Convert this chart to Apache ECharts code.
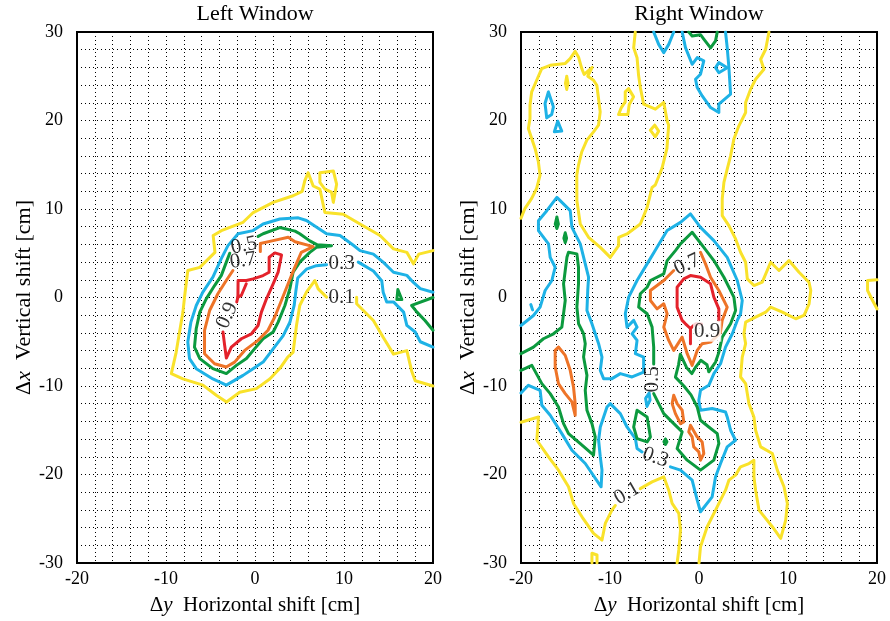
<!DOCTYPE html>
<html><head><meta charset="utf-8">
<script src="https://cdn.jsdelivr.net/npm/echarts@6/dist/echarts.min.js"></script>
<style>html,body{margin:0;padding:0;background:#fff}#c{width:890px;height:621px}</style>
</head><body><div id="c"></div>
<script>
// ---------- tick labels / titles ----------
const X_TICK_LABELS = [-20, -10, 0, 10, 20];
const Y_TICK_LABELS = [-30, -20, -10, 0, 10, 20, 30];
const PANEL_TITLES = ['Left Window', 'Right Window'];
const CONTOUR_LEVELS = ['0.1', '0.3', '0.5', '0.7', '0.9'];

// ---------- LEFT WINDOW contours ([Δy, Δx]) ----------
const L_yel_a = [[20,5.3],[18.4,4.9],[17.8,3.8],[17.06,5.1],[15.56,5.5],[14.05,7],[11.8,8.3],[9.92,9.4],[7.85,9.6],[7.29,12.25],[6.54,12.6],[5.97,14.1],[5.6,13.2],[5.3,12.0],[4.28,11.5],[2.04,10.75],[-0.2,9.6],[-1.34,8.5],[-3.78,7.55],[-4.7,7],[-4.5,5.1],[-6.2,3.4],[-7.55,3.05],[-7.9,0.2],[-8.1,-1.65],[-8.86,-6.2],[-9.4,-8.6],[-8.1,-9.2],[-5.85,-9.9],[-4.35,-11.05],[-3.2,-11.8],[-1.72,-10.7],[0.16,-10.3],[1.66,-9.2],[2.8,-8],[3.7,-6.7],[4.28,-6.2],[4.66,-3.17],[5.03,-0.9],[5.78,0.6],[6.72,1.92],[7.1,0.98],[8.04,0.04]];
const L_yel_b = [[11.42,0.04],[11.42,-0.7],[13.3,-2.6],[14.4,-4.5],[15.56,-6.4],[17.06,-6.0],[17.6,-8.3],[18,-9.4],[20,-10]];
const L_yel_c = [[7.29,14.1],[8.8,14.3],[9.17,12.8],[8.8,10.75],[8.6,11.9],[7.85,12.25],[7.29,13],[7.29,14.1]];
const L_cya_a = [[20,0.6],[18.57,1],[17.8,1.7],[17.06,2.5],[15.56,2.85],[14.4,4],[13.3,4.9],[11.8,5.3],[11.05,5.9],[9.55,7],[8.04,7.2],[5.78,8.7],[4.86,9.0],[2.79,8.87],[0.91,8.3],[-0.22,7.56],[-1.9,7.2],[-3.04,5.86],[-3.8,4.36],[-4.73,2.3],[-5.86,0.6],[-6.6,-0.9],[-7.2,-2.78],[-7.55,-5.03],[-7.36,-6.9],[-6.6,-8.04],[-4.73,-9.2],[-3.22,-9.9],[-1.34,-8.8],[-0.22,-8.04],[0.91,-7.3],[2.04,-5.8],[3.17,-4.3],[3.92,-2.8],[4.4,-0.9],[4.6,0.8],[4.8,2.2],[5.78,3.2],[6.9,3.6],[8.04,3.7]];
const L_cya_b = [[11.6,4.0],[13.3,3.0],[14.24,1.9],[14.4,0.6],[14.8,-0.5],[15.56,-0.5],[16.7,-1.65],[17.06,-3.15],[18,-3.9],[18.57,-5.0],[20,-5.6]];
const L_grn_a = [[0.35,6.9],[0.91,7.2],[2.79,7.9],[4.5,7.5],[5.03,7.2],[6.16,6.4],[7.0,5.95],[8.6,5.86],[6.9,5.67],[6.16,5.1],[5.03,4.0],[4.28,2.85],[3.92,1.0],[3.36,-0.9],[2.6,-2.78],[2.04,-3.9],[0.91,-4.66],[-0.22,-6],[-0.96,-6.9],[-2.09,-7.67],[-3.22,-8.6],[-4.73,-8.04],[-6.2,-6.9],[-6.8,-5.6],[-6.6,-3.5],[-6.2,-1.65],[-5.48,-0.15],[-4.54,1.35],[-3.78,2.5],[-3.22,4.0],[-2.84,5.0]];
const L_grn_b = [[15.94,-0.23],[16.05,0.9],[16.5,-0.23],[15.94,-0.23]];
const L_grn_c = [[20,0.0],[17.6,-0.9],[18.2,-1.65],[19.1,-2.6],[20,-3.7]];
const L_org_a = [[0.6,5.2],[0.6,6.1],[2.04,6.43],[3.73,6.8],[4.5,6.3],[6.54,5.75],[5.2,5.1],[4.47,3.4],[3.72,1.55],[2.97,-0.34],[2.22,-2.2],[1.46,-3.7],[0.34,-4.85],[-1.16,-5.98],[-2.29,-7.3],[-3.23,-7.86],[-4.54,-7.48],[-5.67,-6.35],[-5.67,-3.72],[-5.1,-1.47],[-4.17,0.42],[-3.23,1.92],[-2.48,3.05]];
const L_red_a = [[-3.6,-3.9],[-3.41,-5.41],[-3.22,-6.84],[-2.66,-5.6],[-1.53,-4.66],[-0.4,-4.1],[0.35,-3.16],[0.72,-1.65],[1.29,-0.15],[2.04,1.54],[2.6,2.86],[2.98,4.81],[2.23,5.04],[1.59,4.55],[1.59,2.86],[0.91,2.48],[-0.22,2.1],[-0.97,1.92],[-1.9,1.92],[-1.92,0.04],[-1.54,0.23],[-0.98,1.55]];
const L_red_b = [[-1.92,0.04],[-2.05,-0.5]];
// label: [Δy, Δx, level index, rotation]
const L_labels = [[-1.24,5.86,2,12],[-1.35,4.17,3,8],[-3.12,-2.03,4,65],[9.73,3.9,1,0],[9.73,0.04,0,0]];

// ---------- RIGHT WINDOW contours ----------
const R_yel_a = [[-20,8.95],[-19.55,10.08],[-18.8,11.2],[-18.24,12.33],[-17.86,13.83],[-18.05,15.34],[-18.42,16.84],[-18.8,17.97],[-19.17,19.1],[-18.99,20.23],[-18.99,21.73],[-18.8,23.23],[-18.24,24.55],[-17.67,25.86],[-16.73,26.24],[-15.05,26.43],[-14.48,26.99],[-13.92,27.82],[-13.54,27.18],[-13.17,25.86],[-12.9,25.2],[-12.0,26.0],[-12.5,25.0],[-11.85,24.55],[-11.48,23.98],[-11.29,22.48],[-11.1,20.98],[-11.29,19.47],[-11.85,18.72],[-12.6,17.78],[-13.17,16.47],[-13.54,14.96],[-13.73,13.83],[-13.72,10.94],[-13.34,8.31],[-12.41,6.8],[-11.09,5.67],[-9.97,4.54],[-9.03,5.86],[-9.03,6.8],[-8.09,7.18],[-6.59,8.31],[-5.83,10.18],[-5.27,12.44],[-4.91,12.71],[-4.16,14.59],[-3.6,16.84],[-3.41,19.47],[-3.58,19.96],[-3.96,22.03],[-4.9,21.28],[-6.22,21.84],[-6.59,23.72],[-6.79,25.11],[-6.96,27.1],[-7.34,28.23],[-7.16,30]];
const R_yel_b = [[-14.86,25.0],[-14.72,24.2],[-14.86,23.5],[-15.0,24.2],[-14.86,25.0]];
const R_yel_c = [[-7.91,23.6],[-7.35,22.67],[-7.84,21.8],[-7.99,20.68],[-9.04,20.68],[-8.74,21.43],[-8.29,22.1],[-8.29,23.23],[-7.91,23.6]];
const R_yel_d = [[-4.98,19.47],[-4.53,18.8],[-4.91,18.16],[-5.47,18.91],[-4.98,19.47]];
const R_yel_e = [[7.86,30],[7.49,28.05],[6.93,26.92],[7.3,25.79],[6.36,24.66],[5.8,23.54],[5.24,22.03],[5.24,20.9],[4.48,19.4],[3.92,17.9],[3.55,16.01],[3.17,14.51],[2.8,13.0],[2.61,11.13],[2.61,9.25],[3.36,8.12],[4.11,6.62],[4.67,5.11],[5.24,3.98],[5.43,2.1],[6.17,1.35],[7.11,1.73],[8.05,3.98],[8.99,3.05],[10.11,4.17],[11.24,2.85],[12.36,1.73],[12.56,0.79],[12.37,-0.71],[11.8,-2.03],[10.87,-2.4],[9.37,-1.66],[8.05,-1.09],[7.49,-1.66],[6.36,-2.22],[5.24,-2.78],[5.05,-4.1],[5.24,-5.22],[4.86,-6.73],[4.67,-8.98],[5.24,-9.73],[5.61,-11.99],[6.17,-13.5],[6.36,-15.0],[6.93,-16.88],[8.24,-17.63],[8.8,-19.51],[9.55,-21.39],[9.93,-23.27],[9.74,-25.15],[9.18,-27.22],[8.24,-25.9],[6.74,-24.02],[6.36,-21.77],[6.17,-20.26],[6.17,-18.38],[5.61,-18.76],[4.67,-19.13],[4.11,-20.07],[3.36,-20.64],[2.98,-21.77],[1.86,-24.02],[0.92,-25.9],[0.17,-28.16],[0,-30]];
const R_yel_f = [[20,2.0],[18.94,1.92],[18.94,0.79],[19.5,-0.34],[20,-1.28]];
const R_yel_g = [[-20,-14.1],[-18.04,-13.5],[-18.22,-16.13],[-16.91,-18.01],[-15.79,-19.51],[-14.66,-21.39],[-14.1,-23.27],[-13.15,-24.78],[-11.85,-26.66],[-10.9,-27.41],[-10.53,-25.53],[-9.78,-24.02],[-9.4,-23.5]];
const R_yel_h = [[-6.6,-21.6],[-5.27,-20.83],[-3.96,-20.26],[-3.4,-21.77],[-3.02,-23.27],[-2.27,-24.4],[-2.08,-26.28],[-2.27,-28.53],[-2.46,-30]];
const R_yel_i = [[-12.03,-30],[-12.03,-28.9],[-11.46,-29.1],[-11.46,-30]];
const R_cya_a = [[-20,-3.16],[-18.6,-2.03],[-17.85,-1.09],[-17.29,0.79],[-16.53,1.92],[-16.16,3.42],[-16.72,4.54],[-16.91,6.06],[-18.04,7.56],[-18.04,8.68],[-17.1,9.81],[-15.97,11.31],[-14.47,9.81],[-14.28,7.93],[-13.34,6.06],[-12.78,3.8],[-12.41,2.29],[-12.5,0.8],[-12.59,-1.47],[-12.03,-2.97],[-11.28,-5.22],[-10.9,-6.73],[-11.09,-8.23],[-10.72,-9.17],[-9.78,-9.17],[-8.84,-8.6],[-7.52,-8.98],[-6.22,-8.42],[-6.22,-6.73],[-7.15,-6.35],[-6.96,-4.85],[-7.52,-4.1],[-6.96,-3.35],[-7.34,-2.59],[-8.09,-3.35],[-8.28,-1.84],[-7.9,0.04],[-6.96,1.92],[-5.83,3.8],[-4.71,5.67],[-3.58,7.56],[-2.08,8.49],[-0.96,9.44],[0.17,7.93],[1.67,6.43],[3.17,4.54],[4.3,1.92],[4.86,-0.34],[4.67,-1.84],[4.3,-2.59],[3.74,-4.1],[2.98,-5.6],[2.42,-7.48],[1.67,-8.6],[1.1,-9.92],[0.17,-10.49],[-0.02,-11.62],[0.17,-12.74],[1.48,-12.55],[2.98,-12.93],[3.17,-13.5],[3.55,-15.0],[4.11,-16.13],[3.17,-16.88],[2.42,-18.76],[1.86,-20.26],[1.48,-22.52],[0.17,-24.21],[-0.2,-22.9],[-0.77,-20.64],[-2.08,-19.51],[-3.21,-19.13]];
const R_cya_b = [[-6.4,-17.45],[-6.96,-17.07],[-7.15,-15.94],[-8.09,-14.63],[-8.84,-13.12],[-9.97,-11.99],[-10.34,-12.37],[-11.09,-14.63],[-11.28,-16.13],[-11.09,-18.01],[-10.9,-19.51],[-11.0,-21.39],[-12.78,-18.76],[-14.28,-17.26],[-15.41,-15.38],[-16.72,-13.31],[-17.66,-12.18],[-17.85,-10.49],[-19.17,-9.92],[-20,-10.8]];
const R_cya_c = [[-5.09,30],[-4.53,28.6],[-3.96,27.67],[-3.4,28.6],[-2.84,30]];
const R_cya_d = [[-1.89,30],[-1.52,28.23],[-0.77,26.35],[-0.2,27.1],[0.54,26.73],[0.17,25.23],[-0.39,24.66],[-0.2,23.72],[0.36,22.78],[1.3,21.46],[2.23,20.9],[2.23,21.84],[3.55,22.97],[3.36,25.97],[3.17,28.23],[2.98,30]];
const R_cya_e = [[1.86,25.97],[2.23,26.54],[3.17,25.97],[2.23,25.4],[1.86,25.97]];
const R_cya_f = [[-16.92,23.23],[-16.36,21.54],[-16.55,20.68],[-17.11,20.3],[-17.3,21.92],[-16.92,23.23]];
const R_cya_g = [[-15.87,19.92],[-15.42,18.8],[-16.25,18.72],[-15.87,19.92]];
const R_cya_h = [[-5.6,-10.8],[-5.5,-11.6],[-5.85,-12.3],[-6.0,-11.4],[-5.6,-10.8]];
const R_cya_i = [[-18.9,-0.8],[-18.7,-1.4]];
const R_grn_a = [[-1.15,30],[-0.77,29.55],[0.17,29.7],[0.54,29.2],[1.3,28.2],[1.86,29],[2.05,30]];
const R_grn_b = [[-15.97,9.1],[-15.8,8.3],[-15.97,7.8],[-16.15,8.3],[-15.97,9.1]];
const R_grn_c = [[-15.03,7.3],[-14.88,6.7],[-15.03,6.2],[-15.18,6.7],[-15.03,7.3]];
const R_grn_d = [[-20,-6.35],[-18.6,-5.6],[-17.48,-4.66],[-16.35,-4.1],[-15.41,-3.35],[-15.22,-1.84],[-15.03,-0.34],[-15.22,1.54],[-15.03,3.05],[-14.84,4.54],[-14.66,5.11],[-13.72,4.93],[-13.54,3.42],[-13.54,1.54],[-13.72,-1.09],[-13.53,-2.97],[-12.97,-4.1],[-12.78,-5.22],[-12.97,-6.73],[-12.59,-8.8],[-12.78,-10.49],[-12.59,-12.74],[-12.03,-14.25],[-11.66,-15.75],[-11.85,-17.82],[-13.34,-16.5],[-14.66,-15.38],[-15.22,-14.25],[-15.79,-12.37],[-16.72,-10.86],[-17.66,-9.73],[-18.78,-7.67],[-20,-8.23]];
const R_grn_e = [[-5.09,-10.86],[-3.96,-13.12],[-2.84,-14.25],[-1.89,-15.19],[-2.46,-17.07],[-1.33,-18.38],[0.17,-19.51],[1.67,-18.38],[2.23,-16.5],[2.05,-15.38],[1.1,-14.63],[0.17,-13.87],[-0.2,-12.37],[-0.9,-11.0],[-1.7,-10.0],[-2.65,-9.0],[-2.3,-7.6],[-2.1,-6.4],[-1.4,-7.9],[-0.8,-8.6],[-0.4,-7.9],[0.2,-7.1],[0.9,-7.6],[1.1,-8.4],[1.86,-7.3],[2.23,-6.2],[2.61,-4.48],[3.55,-2.97],[4.11,-1.47],[3.92,0.04],[2.8,2.29],[1.67,4.17],[0.54,5.67],[-0.77,7.37],[-2.08,6.06],[-2.65,5.3],[-3.58,4.17],[-3.96,2.67],[-5.46,1.92],[-5.83,1.16],[-6.59,0.42],[-6.78,-1.09],[-5.83,-1.84],[-5.27,-3.35],[-5.09,-5.6],[-5.09,-7.5]];
const R_grn_f = [[-6.96,-12.74],[-5.83,-13.5],[-5.46,-15.75],[-5.83,-16.32],[-6.96,-15.94],[-7.34,-14.63],[-6.96,-12.74]];
const R_grn_g = [[-3.77,-16.0],[-3.6,-16.3],[-3.77,-16.6],[-3.94,-16.3],[-3.77,-16.0]];
const R_org_a = [[-15.79,-5.6],[-15.03,-6.54],[-14.47,-8.23],[-14.1,-10.11],[-13.91,-11.99],[-13.91,-13.31],[-14.28,-11.8],[-15.03,-10.86],[-15.79,-9.73],[-16.16,-7.86],[-16.16,-5.98],[-15.79,-5.6]];
const R_org_b = [[-2.84,3.05],[-3.96,1.92],[-5.46,0.79],[-5.46,-0.34],[-4.71,-1.28],[-3.96,-0.71],[-3.58,-1.84],[-3.96,-3.35],[-3.4,-4.85],[-2.84,-5.98],[-1.89,-4.48],[-1.33,-6.35],[-0.77,-7.67],[-0.2,-5.98],[0.36,-5.22],[1.3,-5.04],[2.4,-4.0],[2.6,-2.6],[3.17,-1.09],[2.23,0.79],[1.3,2.29],[0.73,3.8],[0.17,5.11]];
const R_org_c = [[-2.84,-11.05],[-2.46,-11.99],[-1.89,-12.74],[-1.71,-14.06],[-2.08,-14.25],[-2.65,-13.12],[-3.02,-11.99],[-2.84,-11.05]];
const R_org_d = [[-0.96,-14.44],[-0.2,-15.75],[0.36,-16.32],[0.54,-17.63],[0.17,-18.38],[-0.02,-17.45],[-0.59,-16.88],[-0.77,-15.75],[-1.15,-15.19],[-0.96,-14.44]];
const R_red_a = [[-0.96,-5.22],[-0.96,-3.5],[-1.52,-2.97],[-1.89,-2.59],[-2.46,-1.09],[-2.46,1.16],[-1.71,2.1],[-0.96,2.48],[0.17,2.29],[1.3,1.54],[1.67,0.04],[2.23,-1.28],[2.23,-2.59]];
const R_red_b = [[-0.96,-3.5],[-0.39,-2.97],[0.3,-3.0]];
const R_labels = [[-1.33,3.72,3,25],[0.92,-3.81,4,0],[-5.18,-9.25,2,90],[-4.9,-18.08,1,-20],[-8.09,-22.14,0,30]];

// ---------- styling ----------
const FONT = '"Liberation Serif","Times New Roman",serif';
const COL = {y:'#F9E22A', c:'#1EB2E6', g:'#0C9A3E', o:'#EE7428', r:'#E4222B'};
const LEFT_SET = [[L_yel_a,'y'],[L_yel_b,'y'],[L_yel_c,'y'],[L_cya_a,'c'],[L_cya_b,'c'],[L_grn_a,'g'],[L_grn_b,'g'],[L_grn_c,'g'],[L_org_a,'o'],[L_red_a,'r'],[L_red_b,'r']];
const RIGHT_SET = [[R_yel_a,'y'],[R_yel_b,'y'],[R_yel_c,'y'],[R_yel_d,'y'],[R_yel_e,'y'],[R_yel_f,'y'],[R_yel_g,'y'],[R_yel_h,'y'],[R_yel_i,'y'],
  [R_cya_a,'c'],[R_cya_b,'c'],[R_cya_c,'c'],[R_cya_d,'c'],[R_cya_e,'c'],[R_cya_f,'c'],[R_cya_g,'c'],[R_cya_h,'c'],[R_cya_i,'c'],
  [R_grn_a,'g'],[R_grn_b,'g'],[R_grn_c,'g'],[R_grn_d,'g'],[R_grn_e,'g'],[R_grn_f,'g'],[R_grn_g,'g'],
  [R_org_a,'o'],[R_org_b,'o'],[R_org_c,'o'],[R_org_d,'o'],[R_red_a,'r'],[R_red_b,'r']];

const GRIDS = [{left:77, top:32, width:356, height:532},{left:521, top:32, width:356, height:532}];

function lineSeries(data, c, gi){
  return {type:'line', xAxisIndex:gi, yAxisIndex:gi, data:data, symbol:'none', showSymbol:false,
    silent:true, animation:false, clip:true, z:3,
    lineStyle:{color:COL[c], width:3, join:'round', cap:'round'}};
}
function labelSeries(labels, gi){
  return {type:'scatter', xAxisIndex:gi, yAxisIndex:gi, symbol:'circle', symbolSize:1, silent:true, animation:false, z:5,
    itemStyle:{color:'rgba(255,255,255,0)'},
    label:{show:true, position:'inside', fontFamily:FONT, fontSize:21, color:'#000'},
    data: labels.map(l => ({value:[l[0],l[1]], label:{formatter:CONTOUR_LEVELS[l[2]], rotate:l[3], fontSize:21, color:'#000',
      backgroundColor:(gi===1 && l[2]===4)?'#fff':'transparent', padding:[0,1]}}))};
}
function richName(sz){
  return {fontFamily:FONT, fontSize:sz, color:'#000',
    rich:{d:{fontFamily:FONT,fontSize:sz,color:'#000'}, i:{fontFamily:FONT,fontSize:sz,fontStyle:'italic',color:'#000'}}};
}
function xAx(gi){
  return {type:'value', gridIndex:gi, min:-20, max:20, interval:2,
    name:'{d|Δ}{i|y}  Horizontal shift [cm]', nameLocation:'middle', nameGap:32,
    nameTextStyle:richName(21),
    axisLine:{show:true, onZero:false, lineStyle:{color:'#000', width:2}},
    axisTick:{show:false},
    axisLabel:{fontFamily:FONT, fontSize:18, color:'#000', margin:7, formatter:v => X_TICK_LABELS.includes(v) ? String(v) : ''},
    splitLine:{show:true, lineStyle:{color:'#000', width:1, type:[1,3]}}};
}
function yAx(gi){
  return {type:'value', gridIndex:gi, min:-30, max:30, interval:2,
    name:'{d|Δ}{i|x}  Vertical shift [cm]', nameLocation:'middle', nameGap:42,
    nameTextStyle:richName(22),
    axisLine:{show:true, onZero:false, lineStyle:{color:'#000', width:2}},
    axisTick:{show:false},
    axisLabel:{fontFamily:FONT, fontSize:18, color:'#000', margin:14, formatter:v => Y_TICK_LABELS.includes(v) ? String(v) : ''},
    splitLine:{show:true, lineStyle:{color:'#000', width:1, type:[1,3]}}};
}

const series = [];
LEFT_SET.forEach(s => series.push(lineSeries(s[0], s[1], 0)));
RIGHT_SET.forEach(s => series.push(lineSeries(s[0], s[1], 1)));
series.push(labelSeries(L_labels, 0));
series.push(labelSeries(R_labels, 1));

const chart = echarts.init(document.getElementById('c'), null, {renderer:'canvas'});
chart.setOption({
  animation:false,
  backgroundColor:'#fff',
  title: PANEL_TITLES.map((t,i) => ({text:t, left:GRIDS[i].left + GRIDS[i].width/2, top:3, textAlign:'center', padding:0,
    textStyle:{fontFamily:FONT, fontSize:22, fontWeight:'normal', color:'#000'}})),
  grid: GRIDS.map(g => Object.assign({show:true, borderColor:'#000', borderWidth:2, backgroundColor:'transparent', containLabel:false}, g)),
  xAxis:[xAx(0), xAx(1)],
  yAxis:[yAx(0), yAx(1)],
  series: series
});
</script>
</body></html>
